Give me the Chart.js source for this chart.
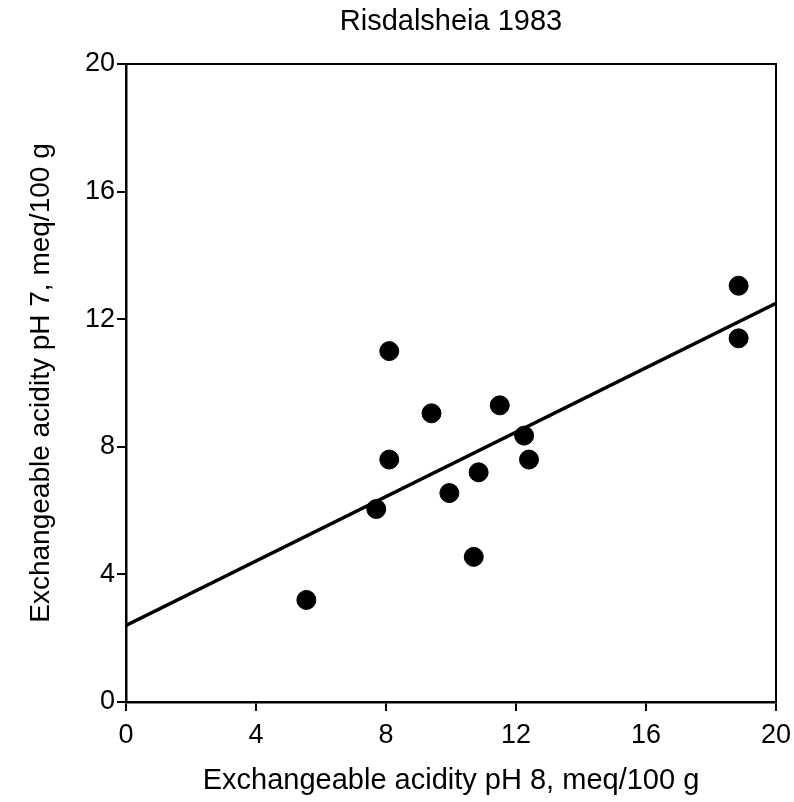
<!DOCTYPE html>
<html>
<head>
<meta charset="utf-8">
<script src="https://cdn.jsdelivr.net/npm/chart.js@4.4.0/dist/chart.umd.min.js"></script>
<style>
  html, body { margin: 0; padding: 0; background: #fff; }
  #wrap { width: 794px; height: 802px; }
</style>
</head>
<body>
<div id="wrap"><canvas id="myChart" width="794" height="802"></canvas></div>
<script>
// measured points, pH 8 (x) vs pH 7 (y), meq/100 g
var acidPH8 = [5.55, 7.7, 8.1, 8.1, 9.4, 9.95, 10.7, 10.85, 11.5, 12.25, 12.4, 18.85, 18.85];
var acidPH7 = [3.2, 6.05, 7.6, 11.0, 9.05, 6.55, 4.55, 7.2, 9.3, 8.35, 7.6, 13.05, 11.4];

// fitted line end points
var fitX = [0, 20];
var fitY = [2.4, 12.5];

var tickValues = [0, 4, 8, 12, 16, 20];

var points = [];
for (var i in acidPH8) {
  points.push({x: acidPH8[i], y: acidPH7[i]});
}
var fitLine = [];
for (var j in fitX) {
  fitLine.push({x: fitX[j], y: fitY[j]});
}

// draws the top and right sides of the frame
var frameBox = {
  id: 'frameBox',
  afterDraw: function(chart) {
    var a = chart.chartArea;
    var c = chart.ctx;
    c.save();
    c.strokeStyle = '#000';
    c.lineWidth = 2;
    c.beginPath();
    c.moveTo(a.left, a.top);
    c.lineTo(a.right, a.top);
    c.lineTo(a.right, a.bottom);
    c.stroke();
    c.restore();
  }
};

var fontName = "'Liberation Sans', Arial, Helvetica, sans-serif";

var ctx = document.getElementById('myChart');
var scatter = new Chart(ctx, {
  type: 'scatter',
  data: {
    datasets: [
      {
        label: 'Samples',
        data: points,
        backgroundColor: '#000',
        borderColor: '#000',
        pointRadius: 9.5,
        pointHoverRadius: 9.5,
        order: 1
      },
      {
        type: 'line',
        label: 'Fit',
        data: fitLine,
        borderColor: '#000',
        borderWidth: 3.5,
        pointRadius: 0,
        fill: false,
        order: 2
      }
    ]
  },
  options: {
    responsive: false,
    animation: false,
    layout: { padding: { left: 0, right: 0, top: 0, bottom: 0 } },
    plugins: {
      legend: { display: false },
      tooltip: { enabled: false },
      title: {
        display: true,
        fullSize: false,
        text: 'Risdalsheia 1983',
        color: '#000',
        font: { family: fontName, size: 29, weight: 'normal' },
        padding: { top: 5, bottom: 24.2 }
      }
    },
    scales: {
      x: {
        type: 'linear',
        min: 0,
        max: 20,
        afterFit: function(s) { s.height = 100; s.paddingRight = 18; s.paddingLeft = 0; },
        afterBuildTicks: function(s) { s.ticks = tickValues.map(function(v) { return {value: v}; }); },
        grid: { display: true, drawOnChartArea: false, drawTicks: true, tickLength: 9, color: '#000', lineWidth: 2 },
        border: { display: true, color: '#000', width: 2.5 },
        ticks: { color: '#000', padding: 8, font: { family: fontName, size: 27 } },
        title: {
          display: true,
          text: 'Exchangeable acidity pH 8, meq/100 g',
          color: '#000',
          font: { family: fontName, size: 29 },
          padding: { top: 0, bottom: 4 }
        }
      },
      y: {
        type: 'linear',
        min: 0,
        max: 20,
        afterFit: function(s) { s.width = 126; },
        afterBuildTicks: function(s) { s.ticks = tickValues.map(function(v) { return {value: v}; }); },
        grid: { display: true, drawOnChartArea: false, drawTicks: true, tickLength: 9, color: '#000', lineWidth: 2 },
        border: { display: true, color: '#000', width: 2.5 },
        ticks: { color: '#000', padding: 2, font: { family: fontName, size: 27 } },
        title: {
          display: true,
          text: 'Exchangeable acidity pH 7, meq/100 g',
          color: '#000',
          font: { family: fontName, size: 28 },
          padding: { top: 24, bottom: 0 }
        }
      }
    }
  },
  plugins: [frameBox]
});
</script>
</body>
</html>
